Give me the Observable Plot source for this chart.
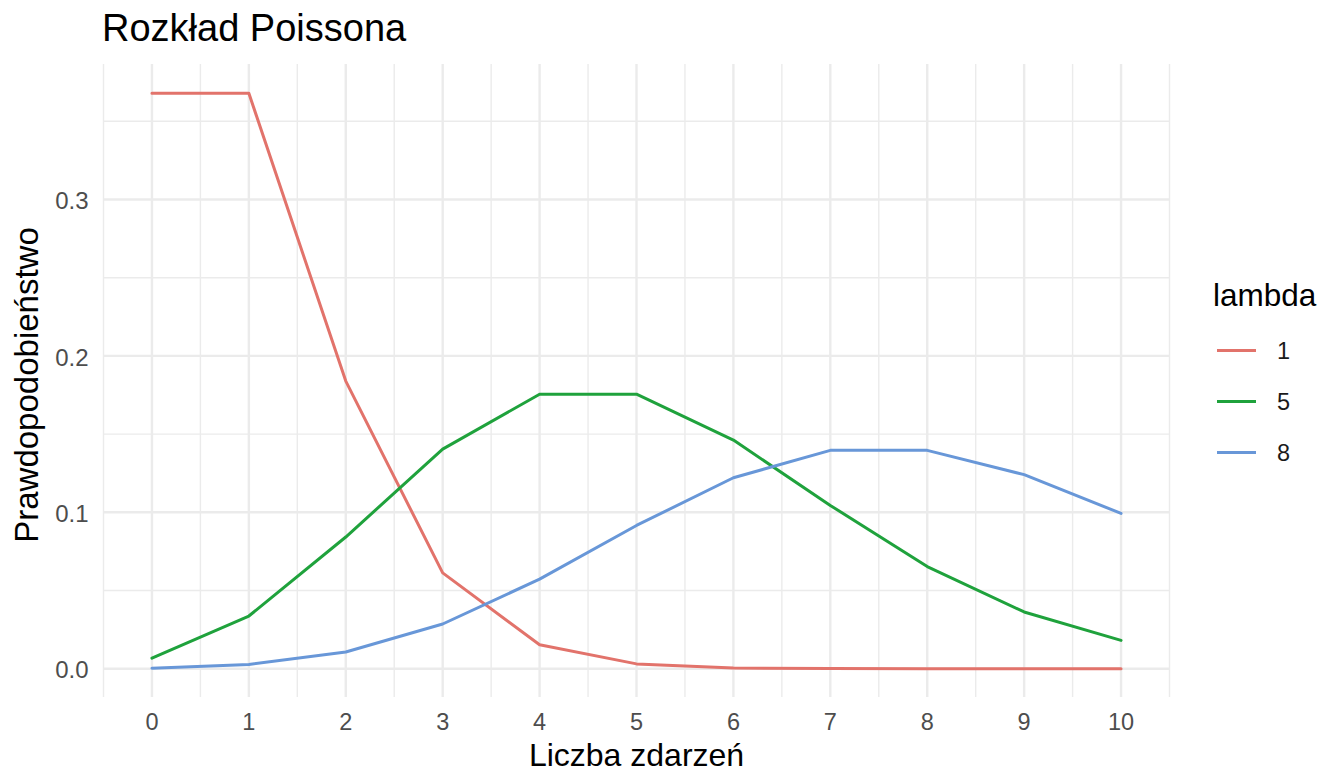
<!DOCTYPE html>
<html>
<head>
<meta charset="utf-8">
<script src="https://cdn.jsdelivr.net/npm/d3@7"></script>
<script src="https://cdn.jsdelivr.net/npm/@observablehq/plot@0.6"></script>
<style>
  html, body { margin: 0; padding: 0; background: #fff; }
  body { width: 1344px; height: 784px; position: relative; overflow: hidden;
         font-family: "Liberation Sans", Arial, sans-serif; }
  #title { height: 56px; line-height: 56px; padding-left: 102px; font-size: 38px; color: #000; white-space: nowrap; }
  #legend { position: absolute; left: 1213px; top: 270px; }
  #legend .lt { position: absolute; left: 0; top: 8px; font-size: 31.5px; line-height: 34px; color: #000; white-space: nowrap; }
  #legend .item { position: absolute; left: 4px; width: 120px; height: 30px; }
  #legend .sw { position: absolute; left: 0; top: 13px; width: 39px; height: 3px; }
  #legend .lb { position: absolute; left: 60px; top: 0; font-size: 23.5px; line-height: 30px; color: #1a1a1a; }
</style>
</head>
<body>
<div id="title">Rozkład Poissona</div>
<div id="chart"></div>
<div id="legend"></div>
<script>
// --- data ---
const events = [0, 1, 2, 3, 4, 5, 6, 7, 8, 9, 10];
const lambdas = ["1", "5", "8"];
const probLambda1 = [0.3679, 0.3679, 0.1839, 0.0613, 0.0153, 0.0031, 0.0005, 0.0001, 0.0000, 0.0000, 0.0000];
const probLambda5 = [0.0067, 0.0337, 0.0842, 0.1404, 0.1755, 0.1755, 0.1462, 0.1044, 0.0653, 0.0363, 0.0181];
const probLambda8 = [0.0003, 0.0027, 0.0107, 0.0286, 0.0573, 0.0916, 0.1221, 0.1396, 0.1396, 0.1241, 0.0993];
const xTicks = [0, 1, 2, 3, 4, 5, 6, 7, 8, 9, 10];
const xMinor = [-0.5, 0.5, 1.5, 2.5, 3.5, 4.5, 5.5, 6.5, 7.5, 8.5, 9.5, 10.5];
const yTicks = [0, 0.1, 0.2, 0.3];
const yMinor = [0.05, 0.15, 0.25, 0.35];
const colors = ["#E2736B", "#1FA23C", "#6897D8"];

const series = [probLambda1, probLambda5, probLambda8];
const rows = [];
lambdas.forEach((l, i) => events.forEach((k, j) => rows.push({k, p: series[i][j], lambda: l})));

const yMax = d3.max(rows, d => d.p), yMin = d3.min(rows, d => d.p);
const yPad = (yMax - yMin) * 0.05;
const fmt = d3.format(".1f");

const plot = Plot.plot({
  width: 1344,
  height: 728,
  marginTop: 8,
  marginBottom: 87,
  marginLeft: 103,
  marginRight: 175,
  style: {fontFamily: "'Liberation Sans', Arial, sans-serif", background: "#fff"},
  x: {domain: [-0.5, 10.5], axis: null},
  y: {domain: [yMin - yPad, yMax + yPad], axis: null},
  color: {domain: lambdas, range: colors},
  marks: [
    Plot.ruleX(xMinor, {stroke: "#EBEBEB", strokeWidth: 1.4}),
    Plot.ruleY(yMinor, {stroke: "#EBEBEB", strokeWidth: 1.4}),
    Plot.ruleX(xTicks, {stroke: "#EBEBEB", strokeWidth: 2.4}),
    Plot.ruleY(yTicks, {stroke: "#EBEBEB", strokeWidth: 2.4}),
    Plot.text(xTicks, {x: d => d, frameAnchor: "bottom", lineAnchor: "top", textAnchor: "middle", dy: 16, fontSize: 23.5, fill: "#4D4D4D", text: d => String(d)}),
    Plot.text(yTicks, {y: d => d, frameAnchor: "left", lineAnchor: "middle", textAnchor: "end", dx: -15, dy: 2, fontSize: 24, fill: "#4D4D4D", text: d => fmt(d)}),
    Plot.line(rows, {x: "k", y: "p", stroke: "lambda", z: "lambda", strokeWidth: 3, strokeLinejoin: "round"}),
    Plot.text(["Liczba zdarzeń"], {frameAnchor: "bottom", dy: 58, fontSize: 32, fill: "#000", lineAnchor: "middle", textAnchor: "middle"}),
    Plot.text(["Prawdopodobieństwo"], {frameAnchor: "left", dx: -76, dy: 4, rotate: -90, fontSize: 33, fill: "#000", lineAnchor: "middle", textAnchor: "middle"})
  ]
});
document.getElementById("chart").appendChild(plot);

// --- legend ---
const legend = document.getElementById("legend");
const lt = document.createElement("div");
lt.className = "lt"; lt.textContent = "lambda";
legend.appendChild(lt);
const itemTops = [66, 117, 168];
lambdas.forEach((l, i) => {
  const it = document.createElement("div");
  it.className = "item";
  it.style.top = itemTops[i] + "px";
  const sw = document.createElement("div");
  sw.className = "sw"; sw.style.background = colors[i];
  const lb = document.createElement("div");
  lb.className = "lb"; lb.textContent = l;
  it.appendChild(sw); it.appendChild(lb);
  legend.appendChild(it);
});
</script>
</body>
</html>
